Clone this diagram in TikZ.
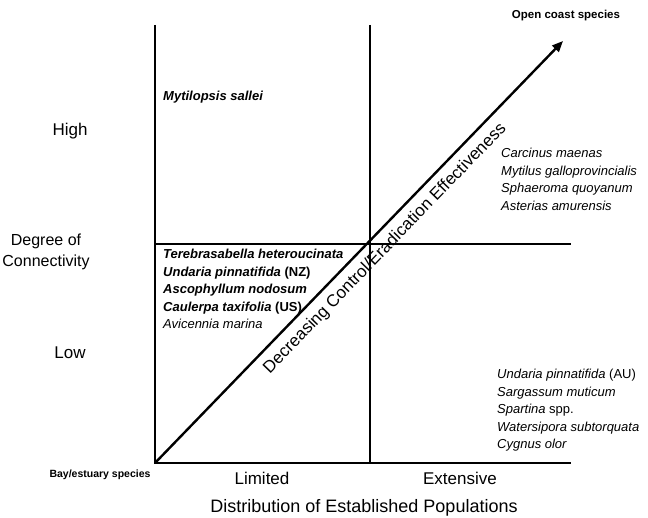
\documentclass[tikz,border=0pt]{standalone}
\usepackage{fontspec}
\setmainfont{Liberation Sans}
\usetikzlibrary{arrows.meta}

\tikzset{
  axisline/.style={line width=2.4pt},
  axislabel/.style={font=\fontsize{17}{21}\selectfont},
  sppbox/.style={anchor=north west, align=left, inner sep=0pt,
    font=\fontsize{13}{17.5}\selectfont},
  endlabel/.style={font=\fontsize{10.5}{12}\selectfont\bfseries}
}

\begin{document}
\begin{tikzpicture}[x=1pt,y=-1pt]
  \useasboundingbox (0,0) rectangle (648,518);
  \coordinate (topL) at (155,25);
  \coordinate (origin) at (155,463);
  \coordinate (botR) at (571,463);
  \coordinate (topM) at (370,25);
  \coordinate (botM) at (370,463);
  \coordinate (midL) at (155,244);
  \coordinate (midR) at (571,244);
  \coordinate (tip) at (563,41);
  % quadrant lines
  \draw[axisline] (topL) -- (origin) -- (botR);
  \draw[axisline] (topM) -- (botM);
  \draw[axisline] (midL) -- (midR);
  \draw[axisline, -{Triangle[length=11pt,width=9pt]}] (origin) -- (tip)
    node (trend) [sloped, below=4pt, pos=0.535, axislabel] {Decreasing Control/Eradication Effectiveness};
  % axis labels
  \node (high) [axislabel] at (70,131) {High};
  \node (low) [axislabel] at (70,353) {Low};
  \node (degree) [axislabel, align=center, font=\fontsize{16}{21}\selectfont] at (46,252) {Degree of\\Connectivity};
  \node (limited) [axislabel] at (262,478) {Limited};
  \node (extensive) [axislabel] at (460,478) {Extensive};
  \node (distrib) [axislabel, font=\fontsize{18}{21}\selectfont] at (364,508) {Distribution of Established Populations};
  \node (bay) [endlabel] at (100,475) {Bay/estuary species};
  \node (open) [endlabel, font=\fontsize{11.5}{13}\selectfont\bfseries] at (566,16) {Open coast species};
  % species
  \node (mytil) [sppbox] at (163,91) {\textbf{\textit{Mytilopsis sallei}}};
  \node (leftlist) [sppbox] at (163,249) {\textbf{\textit{Terebrasabella heteroucinata}}\\
    \textbf{\textit{Undaria pinnatifida}} \textbf{(NZ)}\\
    \textbf{\textit{Ascophyllum nodosum}}\\
    \textbf{\textit{Caulerpa taxifolia}} \textbf{(US)}\\
    \textit{Avicennia marina}};
  \node (upright) [sppbox] at (501,148) {\textit{Carcinus maenas}\\
    \textit{Mytilus galloprovincialis}\\
    \textit{Sphaeroma quoyanum}\\
    \textit{Asterias amurensis}};
  \node (lowright) [sppbox] at (497,369) {\textit{Undaria pinnatifida} (AU)\\
    \textit{Sargassum muticum}\\
    \textit{Spartina} spp.\\
    \textit{Watersipora subtorquata}\\
    \textit{Cygnus olor}};
\end{tikzpicture}
\end{document}
